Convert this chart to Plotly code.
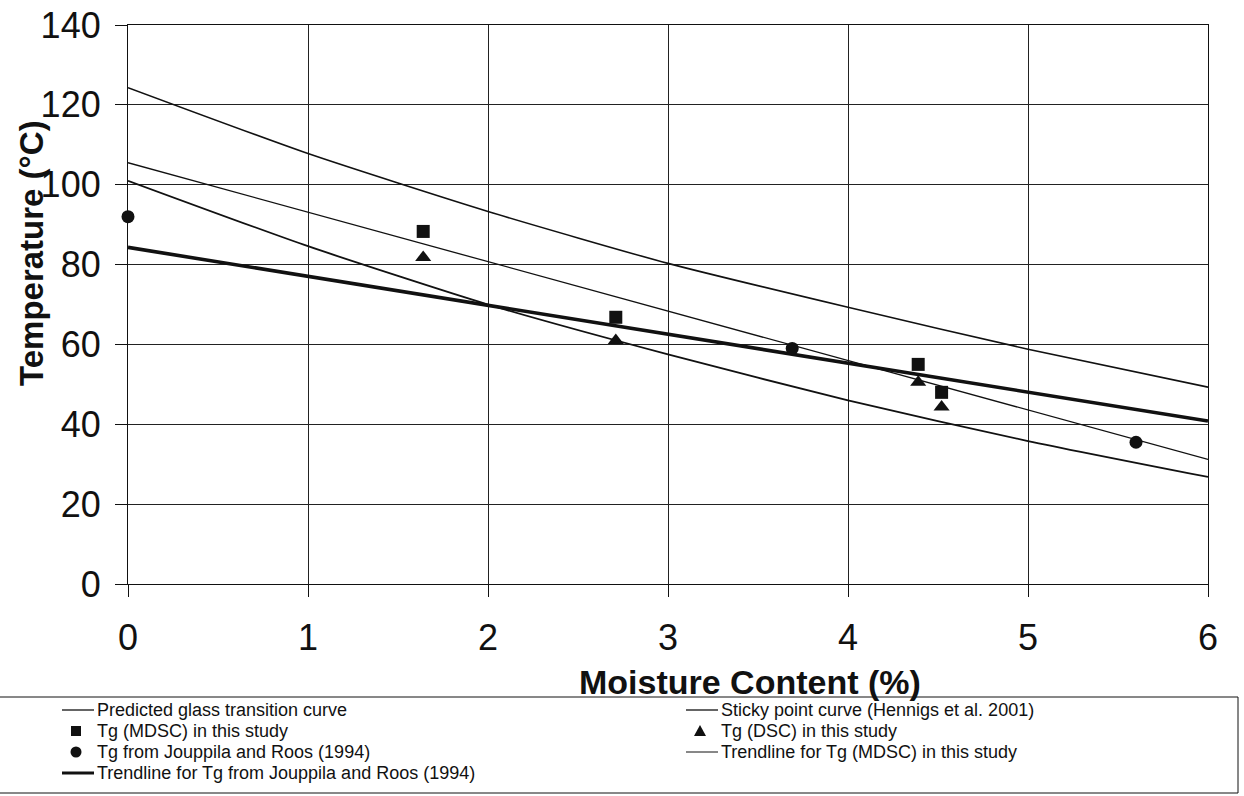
import plotly.graph_objects as go

# ---- data -------------------------------------------------------------
moisture_grid = [0, 1, 2, 3, 4, 5, 6]
sticky_point = [124.3, 107.8, 93.3, 80.3, 69.3, 58.8, 49.3]
predicted_tg = [101.0, 84.6, 70.0, 57.5, 46.0, 35.8, 26.8]

trend_x = [0, 6]
trend_mdsc = [105.5, 31.2]
trend_jouppila = [84.3, 40.8]

mdsc_x = [1.64, 2.71, 4.39, 4.52]
mdsc_tg = [88.3, 66.8, 55.0, 48.0]

dsc_x = [1.64, 2.71, 4.39, 4.52]
dsc_tg = [81.8, 61.0, 50.5, 44.3]

jr_x = [0.0, 3.69, 5.6]
jr_tg = [92.0, 59.0, 35.5]

x_ticks = [0, 1, 2, 3, 4, 5, 6]
y_ticks = [0, 20, 40, 60, 80, 100, 120, 140]

names = {
    "pred": "Predicted glass transition curve",
    "sticky": "Sticky point curve (Hennigs et al. 2001)",
    "mdsc": "Tg (MDSC) in this study",
    "dsc": "Tg (DSC) in this study",
    "jr": "Tg from Jouppila and Roos (1994)",
    "tr_mdsc": "Trendline for Tg (MDSC) in this study",
    "tr_jr": "Trendline for Tg from Jouppila and Roos (1994)",
}

FONT = "Liberation Sans, Arial, Helvetica, sans-serif"
INK = "#111111"

# ---- figure geometry ----------------------------------------------------
W, H = 1244, 796
ML, MR, MT, MB = 128, 36, 25, 212
PW, PH = W - ML - MR, H - MT - MB


def px(x):
    return (x - ML) / PW


def py(y):
    return (H - MB - y) / PH


fig = go.Figure()

fig.add_trace(go.Scatter(x=moisture_grid, y=sticky_point, mode="lines",
                         line=dict(color=INK, width=1.6, shape="spline", smoothing=0.6),
                         name=names["sticky"], showlegend=False))
fig.add_trace(go.Scatter(x=trend_x, y=trend_mdsc, mode="lines",
                         line=dict(color=INK, width=1.3),
                         name=names["tr_mdsc"], showlegend=False))
fig.add_trace(go.Scatter(x=moisture_grid, y=predicted_tg, mode="lines",
                         line=dict(color=INK, width=1.8, shape="spline", smoothing=0.6),
                         name=names["pred"], showlegend=False))
fig.add_trace(go.Scatter(x=trend_x, y=trend_jouppila, mode="lines",
                         line=dict(color=INK, width=3.6),
                         name=names["tr_jr"], showlegend=False))
fig.add_trace(go.Scatter(x=mdsc_x, y=mdsc_tg, mode="markers",
                         marker=dict(symbol="square", size=13, color=INK),
                         name=names["mdsc"], showlegend=False, cliponaxis=False))
fig.add_trace(go.Scatter(x=dsc_x, y=dsc_tg, mode="markers",
                         marker=dict(symbol="triangle-up", size=14, color=INK),
                         name=names["dsc"], showlegend=False, cliponaxis=False))
fig.add_trace(go.Scatter(x=jr_x, y=jr_tg, mode="markers",
                         marker=dict(symbol="circle", size=13, color=INK),
                         name=names["jr"], showlegend=False, cliponaxis=False))

# ---- legend box drawn below the axes ------------------------------------
shapes = []
annotations = []

shapes.append(dict(type="rect", xref="paper", yref="paper",
                   x0=px(-3), x1=px(1238), y0=py(793), y1=py(697),
                   line=dict(color=INK, width=1), fillcolor="rgba(0,0,0,0)"))

legend_rows = [710, 731, 752, 773]
legend_items = [
    ("pred", "line", 0, 0, 1.3),
    ("sticky", "line", 1, 0, 1.3),
    ("mdsc", "square", 0, 1, None),
    ("dsc", "triangle", 1, 1, None),
    ("jr", "circle", 0, 2, None),
    ("tr_mdsc", "line", 1, 2, 1.0),
    ("tr_jr", "line", 0, 3, 3.0),
]
col_line = [(62, 94), (686, 718)]
col_text = [96, 720]

for key, kind, col, row, lw in legend_items:
    yc = legend_rows[row]
    x0, x1 = col_line[col]
    xm = (x0 + x1) / 2 - 2
    if kind == "line":
        shapes.append(dict(type="line", xref="paper", yref="paper",
                           x0=px(x0), x1=px(x1), y0=py(yc), y1=py(yc),
                           line=dict(color=INK, width=lw)))
    elif kind == "square":
        shapes.append(dict(type="rect", xref="paper", yref="paper",
                           x0=px(xm - 5), x1=px(xm + 5), y0=py(yc + 5), y1=py(yc - 5),
                           line=dict(width=0), fillcolor=INK))
    elif kind == "circle":
        shapes.append(dict(type="circle", xref="paper", yref="paper",
                           x0=px(xm - 5.5), x1=px(xm + 5.5), y0=py(yc + 5.5), y1=py(yc - 5.5),
                           line=dict(width=0), fillcolor=INK))
    elif kind == "triangle":
        path = "M {a},{b} L {c},{d} L {e},{f} Z".format(
            a=px(xm - 6), b=py(yc + 5), c=px(xm + 6), d=py(yc + 5),
            e=px(xm), f=py(yc - 6))
        shapes.append(dict(type="path", xref="paper", yref="paper", path=path,
                           line=dict(width=0), fillcolor=INK))
    annotations.append(dict(text=names[key], xref="paper", yref="paper",
                            x=px(col_text[col]), y=py(yc), xanchor="left",
                            yanchor="middle", showarrow=False, borderpad=0,
                            font=dict(family=FONT, size=18, color=INK)))

# axis titles
annotations.append(dict(text="<b>Moisture Content (%)</b>", xref="paper", yref="paper",
                        x=px(750), y=py(682), xanchor="center", yanchor="middle",
                        showarrow=False, font=dict(family=FONT, size=34, color=INK)))
annotations.append(dict(text="<b>Temperature (°C)</b>", xref="paper", yref="paper",
                        x=px(31), y=py(253), xanchor="center", yanchor="middle",
                        textangle=-90, showarrow=False,
                        font=dict(family=FONT, size=33, color=INK)))

axis_common = dict(
    showgrid=True, gridcolor="#222222", gridwidth=1,
    showline=True, linecolor=INK, linewidth=1.2, mirror=True,
    ticks="outside", ticklen=12, tickcolor=INK, tickwidth=1,
    zeroline=False, automargin=False,
    tickfont=dict(family=FONT, size=36, color=INK),
)

fig.update_layout(
    width=W, height=H,
    margin=dict(l=ML, r=MR, t=MT, b=MB),
    paper_bgcolor="white", plot_bgcolor="white",
    showlegend=False,
    xaxis=dict(range=[0, 6], tickvals=x_ticks, ticklabelstandoff=10, **axis_common),
    yaxis=dict(range=[0, 140], tickvals=y_ticks, ticklabelstandoff=7, **axis_common),
    shapes=shapes,
    annotations=annotations,
)

fig.write_html("out.html")
